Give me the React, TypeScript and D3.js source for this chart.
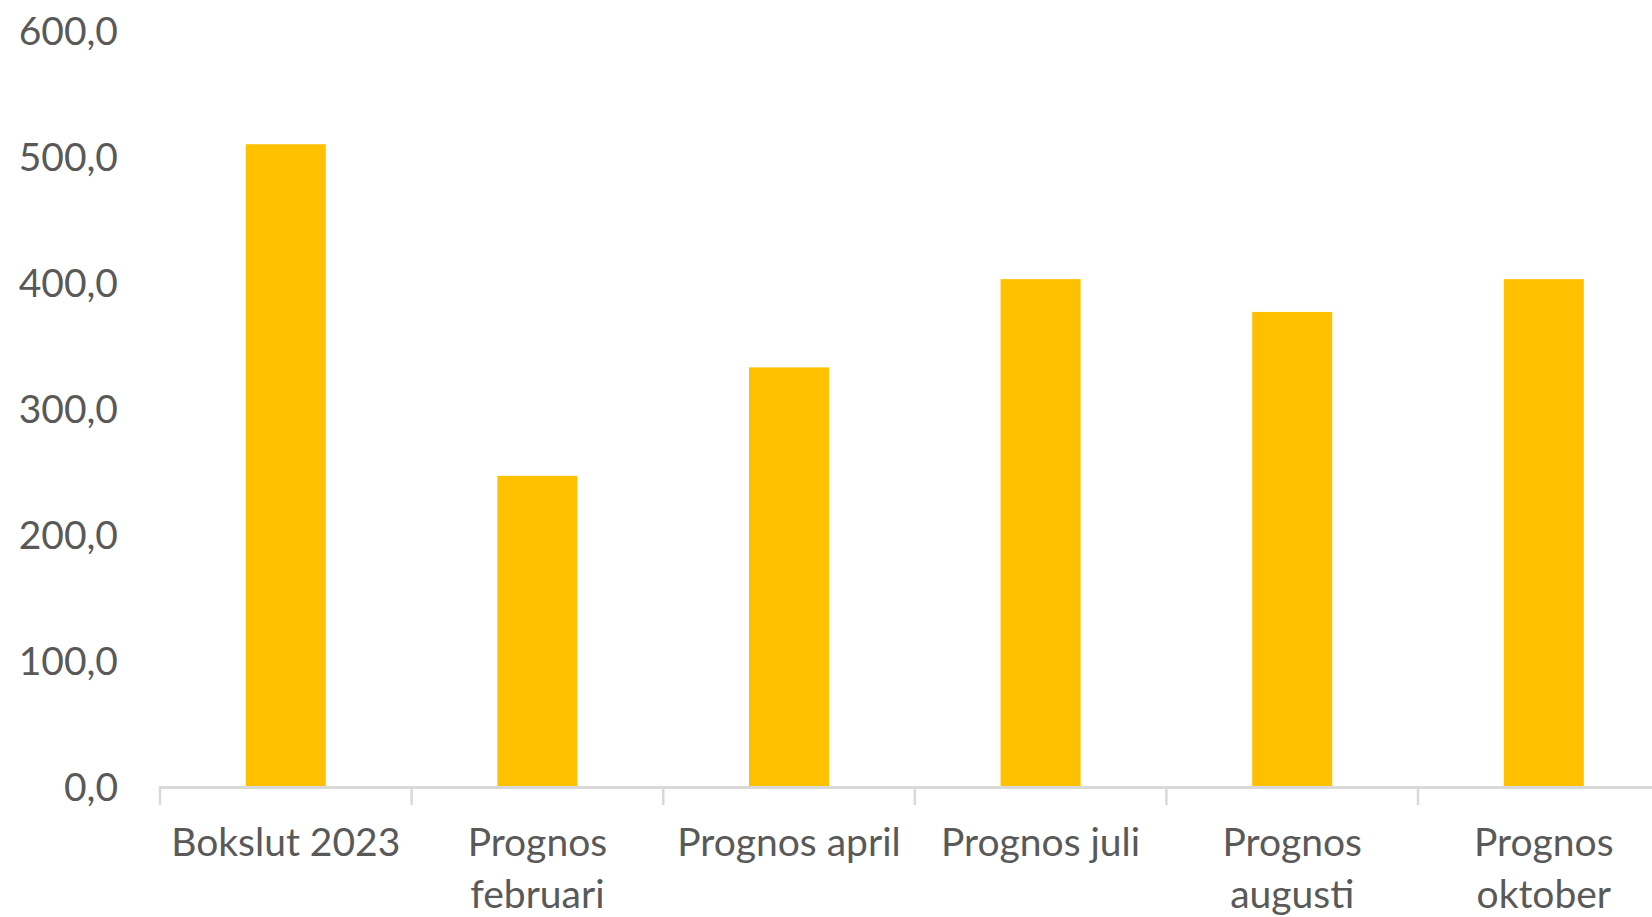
import React from "react";
import * as d3 from "d3";

const categories = ["Bokslut 2023", "Prognos februari", "Prognos april", "Prognos juli", "Prognos augusti", "Prognos oktober"];
const categoryLines = [["Bokslut 2023"], ["Prognos", "februari"], ["Prognos april"], ["Prognos juli"], ["Prognos", "augusti"], ["Prognos", "oktober"]];
const values = [509, 246, 332, 402, 376, 402];
const yTicks = [0, 100, 200, 300, 400, 500, 600];

const W = 1652;
const H = 917;
const FONT = "Lato, 'Open Sans', sans-serif";
const TEXT = "#595959";
const AXIS = "#d9d9d9";
const BAR = "#FFC000";

const sv = d3.formatLocale({ decimal: ",", thousands: " ", grouping: [3], currency: ["", " kr"] });
const fmt = sv.format(".1f");

export default function App() {
  const x = d3.scaleBand<string>().domain(categories).range([160, 1669.6]).paddingInner(0).paddingOuter(0);
  const y = d3.scaleLinear().domain([0, 600]).range([786, 29.5]);
  const bw = x.bandwidth();
  const barW = bw * 0.318;
  const boundaries = categories.map((c) => x(c) as number).concat([(x(categories[categories.length - 1]) as number) + bw]);

  return (
    <svg width={W} height={H} style={{ position: "absolute", left: 0, top: 0, background: "#fff" }} fontFamily={FONT}>
      {values.map((v, i) => {
        const cx = (x(categories[i]) as number) + bw / 2;
        return <rect key={i} x={cx - barW / 2} y={y(v)} width={barW} height={y(0) - y(v)} fill={BAR} />;
      })}
      <line x1={160} x2={1669.6} y1={y(0) + 1.5} y2={y(0) + 1.5} stroke={AXIS} strokeWidth={3} />
      {boundaries.map((b, i) => (
        <line key={i} x1={b} x2={b} y1={y(0)} y2={805} stroke={AXIS} strokeWidth={2.5} />
      ))}
      {yTicks.map((t) => (
        <text key={t} x={118} y={y(t)} textAnchor="end" dominantBaseline="central" fontSize={39} fill={TEXT}>
          {fmt(t)}
        </text>
      ))}
      {categoryLines.map((lines, i) => {
        const cx = (x(categories[i]) as number) + bw / 2;
        return (
          <text key={i} x={cx} textAnchor="middle" fontSize={39} fill={TEXT}>
            {lines.map((l, j) => (
              <tspan key={j} x={cx} y={856 + j * 52}>
                {l}
              </tspan>
            ))}
          </text>
        );
      })}
    </svg>
  );
}
